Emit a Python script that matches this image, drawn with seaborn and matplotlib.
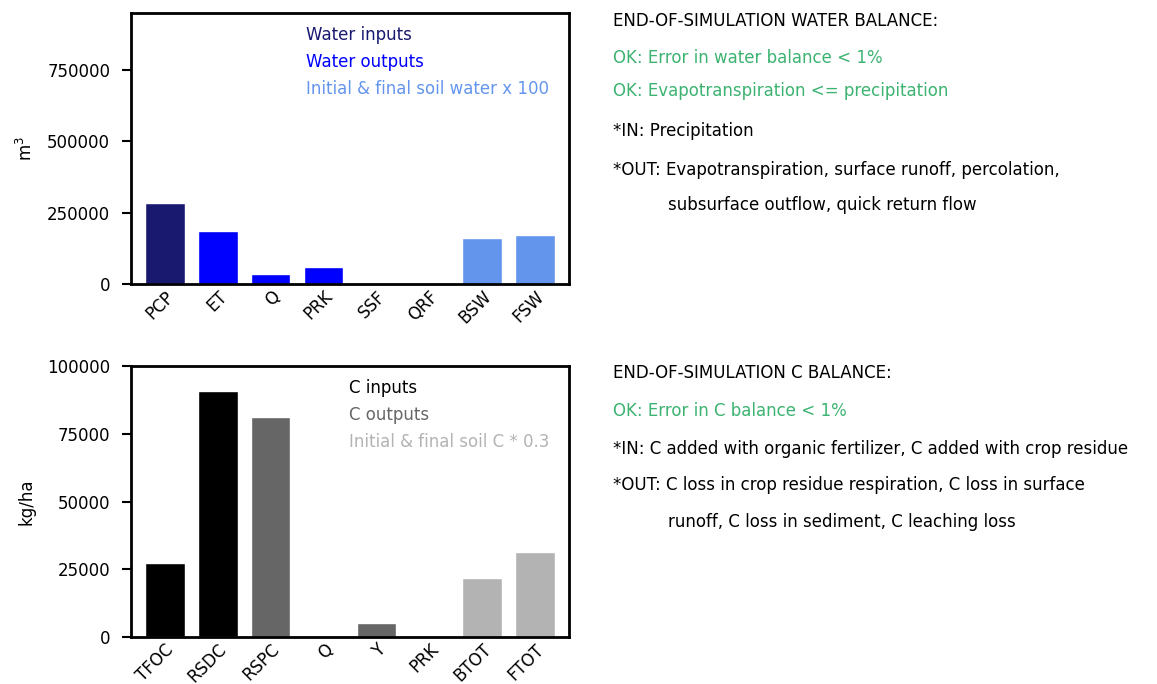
import matplotlib
matplotlib.use("Agg")
import matplotlib.pyplot as plt
import seaborn as sns

# Water balance components (m3); soil water scaled x100
water_labels = ["PCP", "ET", "Q", "PRK", "SSF", "QRF", "BSW", "FSW"]
water_values = [284000, 186000, 35000, 60000, 0, 0, 161000, 172000]
water_colors = ["midnightblue", "blue", "blue", "blue", "blue", "blue",
                "cornflowerblue", "cornflowerblue"]

# Carbon balance components (kg/ha); soil C scaled x0.3
carbon_labels = ["TFOC", "RSDC", "RSPC", "Q", "Y", "PRK", "BTOT", "FTOT"]
carbon_values = [27300, 90800, 81200, 0, 5200, 0, 21800, 31400]
carbon_colors = ["black", "black", "0.4", "0.4", "0.4", "0.4", "0.7", "0.7"]

water_notes = [
    ("END-OF-SIMULATION WATER BALANCE:", "black"),
    ("OK: Error in water balance < 1%", "mediumseagreen"),
    ("OK: Evapotranspiration <= precipitation", "mediumseagreen"),
    ("*IN: Precipitation", "black"),
    ("*OUT: Evapotranspiration, surface runoff, percolation,", "black"),
    ("subsurface outflow, quick return flow", "black"),
]
carbon_notes = [
    ("END-OF-SIMULATION C BALANCE:", "black"),
    ("OK: Error in C balance < 1%", "mediumseagreen"),
    ("*IN: C added with organic fertilizer, C added with crop residue", "black"),
    ("*OUT: C loss in crop residue respiration, C loss in surface", "black"),
    ("runoff, C loss in sediment, C leaching loss", "black"),
]

sns.set_style("ticks")
plt.rcParams.update({
    "font.family": ["DejaVu Sans"],
    "font.size": 12,
    "axes.edgecolor": "black",
    "axes.linewidth": 2.0,
    "text.color": "black",
    "axes.labelcolor": "black",
    "xtick.color": "black",
    "ytick.color": "black",
    "xtick.labelsize": 12,
    "ytick.labelsize": 12,
    "axes.labelsize": 12,
})

fig = plt.figure(figsize=(11.57, 6.84), dpi=100)
ax1 = fig.add_axes([0.1132, 0.5848, 0.3786, 0.3962])
ax2 = fig.add_axes([0.1132, 0.0687, 0.3786, 0.3962])


def draw_panel(ax, labels, values, colors, ylim, yticks, ylabel, legend, lx):
    sns.barplot(x=labels, y=values, hue=labels, palette=colors, legend=False,
                width=0.75, saturation=1, ax=ax)
    ax.set_xlim(-0.64, 7.64)
    ax.set_ylim(*ylim)
    ax.set_yticks(yticks)
    ax.set_yticklabels([str(v) for v in yticks])
    ax.set_ylabel(ylabel, labelpad=8)
    ax.tick_params(axis="x", length=0, pad=2.5)
    plt.setp(ax.get_xticklabels(), rotation=45, ha="right",
             rotation_mode="anchor")
    ax.tick_params(axis="y", length=6.5, width=1.5, pad=8.5)
    for sp in ax.spines.values():
        sp.set_linewidth(2.0)
    for (txt, col), yy in zip(legend, [0.92, 0.82, 0.72]):
        ax.text(lx, yy, txt, color=col, transform=ax.transAxes,
                ha="left", va="center", fontsize=12)


draw_panel(ax1, water_labels, water_values, water_colors, (0, 950000),
           [0, 250000, 500000, 750000], "m$^3$",
           [("Water inputs", "midnightblue"), ("Water outputs", "blue"),
            ("Initial & final soil water x 100", "cornflowerblue")], 0.40)
draw_panel(ax2, carbon_labels, carbon_values, carbon_colors, (0, 100000),
           [0, 25000, 50000, 75000, 100000], "kg/ha",
           [("C inputs", "black"), ("C outputs", "0.4"),
            ("Initial & final soil C * 0.3", "0.7")], 0.497)

W, H = 1157, 684
water_y = [21, 58, 91, 131, 170, 205]
carbon_y = [373, 411, 449, 485, 522]
for notes, ys in [(water_notes, water_y), (carbon_notes, carbon_y)]:
    for i, ((txt, col), yy) in enumerate(zip(notes, ys)):
        indent = (i == len(notes) - 1)
        x = 668 if indent else 613
        fig.text(x / W, 1 - yy / H, txt, color=col, ha="left", va="center",
                 fontsize=12)

fig.savefig("out.png", dpi=100)
